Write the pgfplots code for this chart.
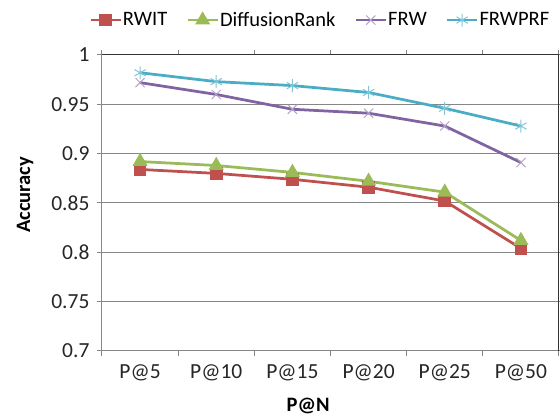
\documentclass[border=0pt]{standalone}
\usepackage{pgfplots}
\pgfplotsset{compat=1.18}
\usepackage{fontspec}
\setmainfont{Carlito}
\definecolor{cR}{HTML}{C0504D}
\definecolor{cG}{HTML}{9BBB59}
\definecolor{cP}{HTML}{8064A2}
\definecolor{cB}{HTML}{4BACC6}
\definecolor{gridc}{HTML}{868686}
\begin{document}
\begin{tikzpicture}
\useasboundingbox (0,0) rectangle (560pt,417pt);
\begin{axis}[
  at={(102pt,66pt)}, anchor=south west,
  scale only axis,
  width=457pt, height=296pt,
  xmin=-0.5, xmax=5.5,
  ymin=0.7, ymax=1,
  ytick={0.7,0.75,...,1.01},
  yticklabels={0.7,0.75,0.8,0.85,0.9,0.95,1},
  xtick={-0.5,0.5,...,5.6},
  xticklabels={},
  extra x ticks={0,1,2,3,4,5},
  extra x tick labels={P@5,P@10,P@15,P@20,P@25,P@50},
  extra x tick style={major tick length=0pt, grid=none},
  tick align=outside,
  major tick length=5pt,
  ymajorgrids,
  grid style={gridc, line width=1pt},
  axis line style={gridc, line width=1pt},
  tick style={gridc, line width=1pt},
  ticklabel style={font=\fontsize{21.5}{24}\selectfont, text=black!85},
  xticklabel style={yshift=-10pt},
  yticklabel style={xshift=-4pt},
  xlabel={\textbf{P@N}},
  ylabel={\textbf{Accuracy}},
  label style={font=\fontsize{20.5}{24}\selectfont},
  xlabel style={at={(axis description cs:0.451,0)}, anchor=base, yshift=-61pt},
  ylabel style={at={(axis description cs:-0.1575,0.527)}, anchor=base},
  legend columns=4,
  legend style={draw=none, fill=none, inner sep=0pt, at={(-0.0285,1.118)}, anchor=west,
    nodes={inner xsep=1pt},
    font=\fontsize{20.5}{24}\selectfont, /tikz/every even column/.append style={column sep=18pt}},
  legend image code/.code={
    \draw[#1, mark repeat=2, mark phase=2] plot coordinates {(0pt,0pt) (15pt,0pt) (30pt,0pt)};
  },
  every axis plot/.append style={line width=2.75pt},
]
\addplot[cR, mark=square*, mark size=5pt, mark options={solid}] coordinates {
  (0,0.884) (1,0.880) (2,0.874) (3,0.866) (4,0.852) (5,0.804)};
\addlegendentry{RWIT}
\addplot[cG, mark=triangle*, mark size=6pt] coordinates {
  (0,0.892) (1,0.888) (2,0.881) (3,0.872) (4,0.861) (5,0.812)};
\addlegendentry{DiffusionRank}
\addplot[cP, mark=x, mark size=6.5pt, mark options={line width=1pt, cP!60}] coordinates {
  (0,0.972) (1,0.960) (2,0.945) (3,0.941) (4,0.928) (5,0.891)};
\addlegendentry{FRW}
\addplot[cB, mark=asterisk, mark size=6.5pt, mark options={line width=1pt, cB!70}] coordinates {
  (0,0.982) (1,0.973) (2,0.969) (3,0.962) (4,0.946) (5,0.928)};
\addlegendentry{FRWPRF}
\draw[black!80, line width=1pt] (rel axis cs:0,1) -- (rel axis cs:1,1) -- (rel axis cs:1,0);
\end{axis}
\end{tikzpicture}
\end{document}
